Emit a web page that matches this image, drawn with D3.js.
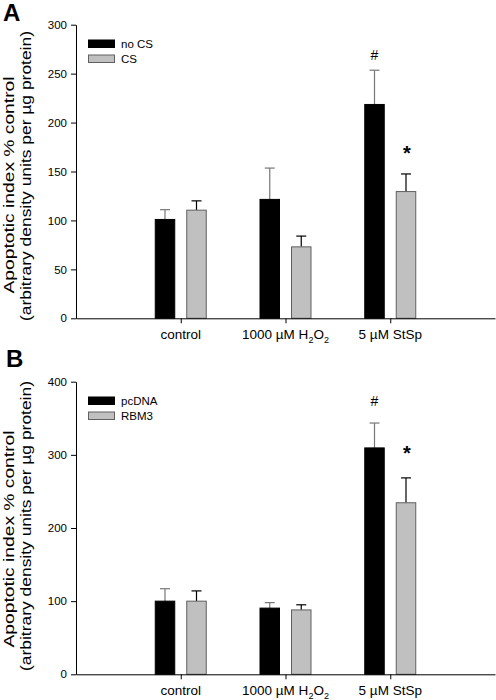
<!DOCTYPE html>
<html>
<head>
<meta charset="utf-8">
<script src="https://cdn.jsdelivr.net/npm/d3@7"></script>
<style>
  html, body { margin: 0; padding: 0; background: #fff; }
  svg { display: block; font-family: "Liberation Sans", Arial, sans-serif; }
</style>
</head>
<body>
<svg id="chart" width="496" height="700"></svg>
<script>
// ---------- DATA ----------
const categories = ["control", "1000 µM H2O2", "5 µM StSp"];

// Panel A
const seriesA = ["no CS", "CS"];
const noCSValues = [101, 121.5, 218.5];
const noCSErrors = [10, 32, 35];
const csValues = [110.5, 73, 129.5];
const csErrors = [9.5, 11, 18];
const ticksA = [0, 50, 100, 150, 200, 250, 300];

// Panel B
const seriesB = ["pcDNA", "RBM3"];
const pcDNAValues = [100, 90.5, 309.5];
const pcDNAErrors = [17, 7.5, 34];
const rbm3Values = [100, 88, 234.5];
const rbm3Errors = [14, 7, 34];
const ticksB = [0, 100, 200, 300, 400];

// significance marks: [category index, series index, symbol]
const marksA = [[2, 0, "#"], [2, 1, "*"]];
const marksB = [[2, 0, "#"], [2, 1, "*"]];

const yTitle1 = "Apoptotic index % control";
const yTitle2 = "(arbitrary density units per µg protein)";

// ---------- DRAW ----------
const svg = d3.select("#chart");
const fills = ["#000000", "#c0c0c0"];
const strokes = ["#000000", "#606060"];
const errColors = ["#777777", "#000000"];

function drawPanel(cfg) {
  const g = svg.append("g");
  const y = d3.scaleLinear().domain([0, cfg.yMax]).range([cfg.y0, cfg.y1]);
  // x: category positions 1..3 on a 0..4 axis
  const x = d3.scaleLinear().domain([0, categories.length + 1]).range([76, 495]);
  const sub = d3.scaleBand().domain(cfg.series).range([-25.5, 25.5]).paddingInner(0.381).paddingOuter(0);

  // bars
  cfg.series.forEach((s, si) => {
    const vals = cfg.values[si], errs = cfg.errors[si];
    categories.forEach((c, ci) => {
      const cx = x(ci + 1) + sub(s);
      const bw = sub.bandwidth();
      const top = y(vals[ci]);
      const etop = y(vals[ci] + errs[ci]);
      const mid = cx + bw / 2;
      g.append("line").attr("x1", mid).attr("x2", mid).attr("y1", top).attr("y2", etop)
        .attr("stroke", errColors[si]).attr("stroke-width", 1.2);
      g.append("line").attr("x1", mid - 5).attr("x2", mid + 5).attr("y1", etop).attr("y2", etop)
        .attr("stroke", errColors[si]).attr("stroke-width", 1.2);
      g.append("rect").attr("x", cx).attr("y", top).attr("width", bw).attr("height", y(0) - top)
        .attr("fill", fills[si]).attr("stroke", strokes[si]).attr("stroke-width", 1);
    });
  });

  // significance marks
  cfg.marks.forEach(([ci, si, sym]) => {
    const s = cfg.series[si];
    const mid = x(ci + 1) + sub(s) + sub.bandwidth() / 2;
    const v = cfg.values[si][ci] + cfg.errors[si][ci];
    const t = g.append("text").attr("x", mid + (sym === "*" ? 1 : 0))
      .attr("text-anchor", "middle").text(sym);
    if (sym === "#") {
      t.attr("y", y(v) - cfg.hashGap).attr("font-size", 14);
    } else {
      t.attr("y", y(v) - cfg.starGap).attr("font-size", 20).attr("font-weight", "bold");
    }
  });

  // y axis
  const yAxis = d3.axisLeft(y).tickValues(cfg.ticks).tickSize(5).tickPadding(4).tickSizeOuter(0);
  const ya = g.append("g").attr("transform", "translate(76,0)").call(yAxis);
  ya.selectAll("text").attr("font-size", 11.5).attr("fill", "#000").style("font-family", "Liberation Sans, Arial, sans-serif");
  ya.selectAll("line,path").attr("stroke", "#000");

  // x axis
  const xAxis = d3.axisBottom(x).tickValues(categories.map((c, i) => i + 1)).tickSize(5).tickSizeOuter(0).tickFormat("");
  const xa = g.append("g").attr("transform", `translate(0,${cfg.y0})`).call(xAxis);
  xa.selectAll("line,path").attr("stroke", "#000");

  // x labels (with subscripts)
  categories.forEach((c, ci) => {
    const t = g.append("text").attr("x", x(ci + 1)).attr("y", cfg.y0 + 20.5)
      .attr("text-anchor", "middle").attr("font-size", 13.5).attr("fill", "#000");
    if (c.indexOf("H2O2") >= 0) {
      t.append("tspan").text(c.replace("H2O2", "H"));
      t.append("tspan").attr("font-size", 9).attr("dy", 4).text("2");
      t.append("tspan").attr("dy", -4).text("O");
      t.append("tspan").attr("font-size", 9).attr("dy", 4).text("2");
    } else {
      t.text(c);
    }
  });

  // legend
  cfg.series.forEach((s, si) => {
    const ly = cfg.legendY + si * 15;
    g.append("rect").attr("x", 88.5).attr("y", ly).attr("width", 26).attr("height", 7.5)
      .attr("fill", fills[si]).attr("stroke", strokes[si]).attr("stroke-width", 1);
    g.append("text").attr("x", 121).attr("y", ly + 8.3).attr("font-size", 11.5).text(s);
  });

  // y title (two lines, stretched to the reference's lengths)
  g.append("text").attr("transform", `translate(14,${cfg.title1Y}) rotate(-90)`)
    .attr("text-anchor", "middle").attr("font-size", 15)
    .attr("textLength", 217).attr("lengthAdjust", "spacingAndGlyphs").text(yTitle1);
  g.append("text").attr("transform", `translate(31,${cfg.title2Y}) rotate(-90)`)
    .attr("text-anchor", "middle").attr("font-size", 15)
    .attr("textLength", 290).attr("lengthAdjust", "spacingAndGlyphs").text(yTitle2);

  // panel letter
  g.append("text").attr("x", cfg.letterX).attr("y", cfg.letterY)
    .attr("font-size", 24).attr("font-weight", "bold").text(cfg.letter);
}

drawPanel({
  series: seriesA, values: [noCSValues, csValues], errors: [noCSErrors, csErrors],
  ticks: ticksA, yMax: 300, y0: 318.3, y1: 24.7, marks: marksA,
  hashGap: 10.5, starGap: 14, legendY: 40, title1Y: 185, title2Y: 176,
  letter: "A", letterX: 3, letterY: 21
});
drawPanel({
  series: seriesB, values: [pcDNAValues, rbm3Values], errors: [pcDNAErrors, rbm3Errors],
  ticks: ticksB, yMax: 400, y0: 674.3, y1: 381.7, marks: marksB,
  hashGap: 17.5, starGap: 17.6, legendY: 397, title1Y: 539, title2Y: 526,
  letter: "B", letterX: 6, letterY: 367
});
</script>
</body>
</html>
